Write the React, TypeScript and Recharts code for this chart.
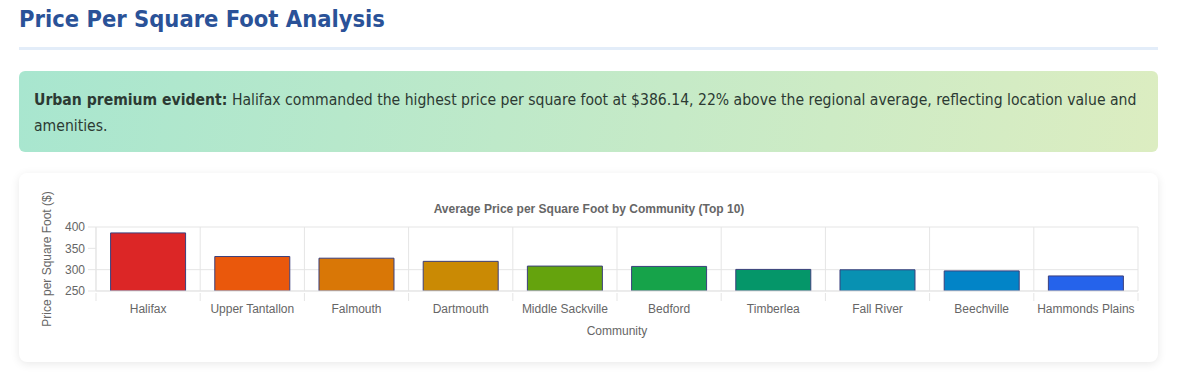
import React from 'react';
import { BarChart, Bar, XAxis, YAxis, CartesianGrid, Cell } from 'recharts';

const communities = [
  'Halifax',
  'Upper Tantallon',
  'Falmouth',
  'Dartmouth',
  'Middle Sackville',
  'Bedford',
  'Timberlea',
  'Fall River',
  'Beechville',
  'Hammonds Plains',
];
const pricePerSqft = [386.14, 330.8, 326.9, 319.5, 308.4, 307.6, 300.6, 299.7, 297.1, 285.3];
const barColors = [
  '#dc2626',
  '#ea580c',
  '#d97706',
  '#ca8a04',
  '#65a30d',
  '#16a34a',
  '#059669',
  '#0891b2',
  '#0284c7',
  '#2563eb',
];
const yTicks = [250, 300, 350, 400];

const data = communities.map((name, i) => ({ name, price: pricePerSqft[i] }));

const GRID = '#e5e5e5';
const TICK_FONT = '"Liberation Sans", Arial, Helvetica, sans-serif';

// chart.js style x tick: label at center, tick marks on category boundaries
const XTick = (props: any) => {
  const { x, y, payload, index } = props;
  const half = payload?.offset ?? 0;
  return (
    <g>
      <line x1={x - half} x2={x - half} y1={y} y2={y + 8} stroke={GRID} />
      {index === communities.length - 1 && (
        <line x1={x + half} x2={x + half} y1={y} y2={y + 8} stroke={GRID} />
      )}
      <text
        x={x}
        y={y + 11}
        dy="0.78em"
        textAnchor="middle"
        fill="#666"
        fontSize={12}
        fontFamily={TICK_FONT}
      >
        {payload.value}
      </text>
    </g>
  );
};

const YLabel = (props: any) => {
  const vb = props.viewBox || {};
  const cx = 8;
  const cy = vb.y + vb.height / 2;
  return (
    <text
      x={cx}
      y={cy}
      transform={`rotate(-90, ${cx}, ${cy})`}
      textAnchor="middle"
      dominantBaseline="central"
      fill="#666"
      fontSize={12}
      fontFamily={TICK_FONT}
    >
      Price per Square Foot ($)
    </text>
  );
};

const XLabel = (props: any) => {
  const vb = props.viewBox || {};
  return (
    <text
      x={vb.x + vb.width / 2}
      y={vb.y + 40}
      textAnchor="middle"
      dominantBaseline="central"
      fill="#666"
      fontSize={12}
      fontFamily={TICK_FONT}
    >
      Community
    </text>
  );
};

const App = () => {
  return (
    <div
      style={{
        position: 'absolute',
        left: 0,
        top: 0,
        width: 1178,
        height: 375,
        background: '#fff',
        overflow: 'hidden',
      }}
    >
      <h2
        style={{
          position: 'absolute',
          left: 19,
          top: 4,
          margin: 0,
          fontFamily: '"DejaVu Sans Condensed", "DejaVu Sans", Verdana, sans-serif',
          fontWeight: 700,
          fontSize: 23.5,
          lineHeight: '30px',
          color: '#2a5298',
          whiteSpace: 'nowrap',
        }}
      >
        Price Per Square Foot Analysis
      </h2>
      <div
        style={{
          position: 'absolute',
          left: 19,
          top: 47,
          width: 1139,
          height: 3,
          background: '#e3edf9',
        }}
      />
      <div
        style={{
          position: 'absolute',
          left: 19,
          top: 71,
          width: 1139,
          height: 81,
          boxSizing: 'border-box',
          padding: '16px 12px 16px 15px',
          borderRadius: 6,
          background: 'linear-gradient(100deg, #a8e6cf 0%, #dcedc1 100%)',
          fontFamily: '"DejaVu Sans Condensed", "DejaVu Sans", Tahoma, sans-serif',
          fontSize: 15.6,
          lineHeight: '26px',
          color: '#2c3a33',
        }}
      >
        <strong>Urban premium evident:</strong> Halifax commanded the highest price per square
        foot at $386.14, 22% above the regional average, reflecting location value and amenities.
      </div>
      <div
        style={{
          position: 'absolute',
          left: 19,
          top: 173,
          width: 1139,
          height: 189,
          borderRadius: 8,
          background: '#fff',
          boxShadow: '0 2px 10px rgba(0,0,0,0.09)',
        }}
      >
        <div
          style={{
            position: 'absolute',
            left: 20,
            top: 29,
            width: 1100,
            textAlign: 'center',
            fontFamily: TICK_FONT,
            fontWeight: 700,
            fontSize: 12,
            lineHeight: '14px',
            color: '#666',
          }}
        >
          Average Price per Square Foot by Community (Top 10)
        </div>
        <div style={{ position: 'absolute', left: 20, top: 10 }}>
          <BarChart
            width={1100}
            height={165}
            data={data}
            margin={{ top: 44, right: 1, bottom: 5, left: 0 }}
            barCategoryGap="14%"
          >
            <CartesianGrid
              stroke={GRID}
              verticalCoordinatesGenerator={({ offset }: any) =>
                communities
                  .map((_, i) => offset.left + (i * offset.width) / communities.length)
                  .concat(offset.left + offset.width)
              }
            />
            <XAxis
              dataKey="name"
              height={52}
              tickSize={0}
              tickLine={false}
              axisLine={{ stroke: GRID }}
              tick={<XTick />}
              interval={0}
              label={<XLabel />}
            />
            <YAxis
              width={57}
              domain={[250, 400]}
              ticks={yTicks}
              allowDataOverflow
              tickSize={8}
              tickMargin={3}
              tickLine={{ stroke: GRID }}
              axisLine={{ stroke: GRID }}
              tick={{ fill: '#666', fontSize: 12, fontFamily: TICK_FONT }}
              label={<YLabel />}
            />
            <Bar dataKey="price" stroke="#3b3f7c" strokeWidth={1} isAnimationActive={false}>
              {data.map((d, i) => (
                <Cell key={d.name} fill={barColors[i]} />
              ))}
            </Bar>
          </BarChart>
        </div>
      </div>
    </div>
  );
};

export default App;
